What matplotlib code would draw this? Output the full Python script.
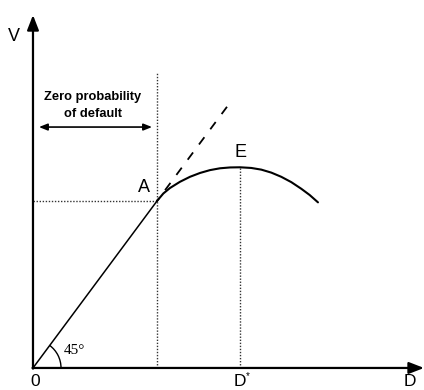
import matplotlib
matplotlib.use('Agg')
import matplotlib.pyplot as plt
from matplotlib.patches import Arc

plt.rcParams['font.family'] = ['Liberation Sans', 'DejaVu Sans']

# 45 degree line from the origin up to A (V = D)
line_D = [0.0, 1.0]
line_V = [0.0, 1.0]

# dashed continuation of the 45 degree line
dash_D = [1.0, 1.6]
dash_V = [1.0, 1.6]

# value curve beyond A
curve_D = [1.000, 1.051, 1.105, 1.185, 1.266, 1.347, 1.427, 1.508, 1.589,
           1.669, 1.760, 1.841, 1.922, 2.002, 2.083, 2.164, 2.231, 2.298]
curve_V = [1.000, 1.045, 1.078, 1.115, 1.145, 1.168, 1.185, 1.196, 1.201,
           1.202, 1.198, 1.188, 1.170, 1.145, 1.113, 1.073, 1.036, 0.992]

D_A, V_A = 1.0, 1.0
D_star, V_E = 1.67, 1.202
top_A_line = 1.77

xmin, xmax = -0.266, 3.153
ymin, ymax = -0.132, 2.204

fig = plt.figure(figsize=(4.24, 3.90), dpi=100)
ax = fig.add_axes([0, 0, 1, 1])
ax.set_xlim(xmin, xmax)
ax.set_ylim(ymin, ymax)
ax.axis('off')

# axes with arrows
ax.annotate('', xy=(0, 2.114), xytext=(0, -0.004),
            arrowprops=dict(arrowstyle='-|>,head_width=0.35,head_length=0.9',
                            color='black', lw=1.6, shrinkA=0, shrinkB=0))
ax.annotate('', xy=(xmax, 0), xytext=(-0.004, 0),
            arrowprops=dict(arrowstyle='-|>,head_width=0.35,head_length=0.9',
                            color='black', lw=1.6, shrinkA=0, shrinkB=0))

# dotted guide lines
ax.plot([D_A, D_A], [0, top_A_line], color='#333333', lw=1.0, ls=(0, (1, 1.2)))
ax.plot([0, D_A], [V_A, V_A], color='#333333', lw=1.0, ls=(0, (1, 1.2)))
ax.plot([D_star, D_star], [0, V_E], color='#333333', lw=1.0, ls=(0, (1, 1.2)))

# lines
ax.plot(line_D, line_V, color='black', lw=1.1)
ax.plot(dash_D, dash_V, color='black', lw=1.3, ls=(3, (5, 5.5)))
ax.plot(curve_D, curve_V, color='black', lw=1.5, solid_capstyle='round',
        solid_joinstyle='round')

# 45 degree arc
ax.add_patch(Arc((0, 0), 2 * 0.226, 2 * 0.168, theta1=0, theta2=45,
                 color='black', lw=1.0))
ax.text(0.331, 0.102, '45°', family='Liberation Serif', fontsize=11,
        ha='center', va='center')

# double arrow for zero probability region
ax.annotate('', xy=(0.96, 1.443), xytext=(0.048, 1.443),
            arrowprops=dict(arrowstyle='<|-|>,head_width=0.2,head_length=0.5',
                            color='black', lw=1.2, shrinkA=0, shrinkB=0))
ax.text(0.48, 1.622, 'Zero probability', fontsize=9.3, fontweight='bold',
        ha='center', va='center')
ax.text(0.48, 1.524, 'of default', fontsize=9.3, fontweight='bold',
        ha='center', va='center')

# labels
ax.text(-0.153, 1.988, 'V', fontsize=13, ha='center', va='center')
ax.text(0.016, -0.082, '0', fontsize=12.5, ha='center', va='center')
ax.text(D_star, -0.082, 'D', fontsize=12.5, ha='center', va='center')
ax.text(D_star + 0.058, -0.05, '*', fontsize=7, ha='center', va='center')
ax.text(3.04, -0.082, 'D', fontsize=12.5, ha='center', va='center')
ax.text(0.895, 1.078, 'A', fontsize=13, ha='center', va='center')
ax.text(1.677, 1.293, 'E', fontsize=13, ha='center', va='center')

fig.savefig('out.png', dpi=100)
